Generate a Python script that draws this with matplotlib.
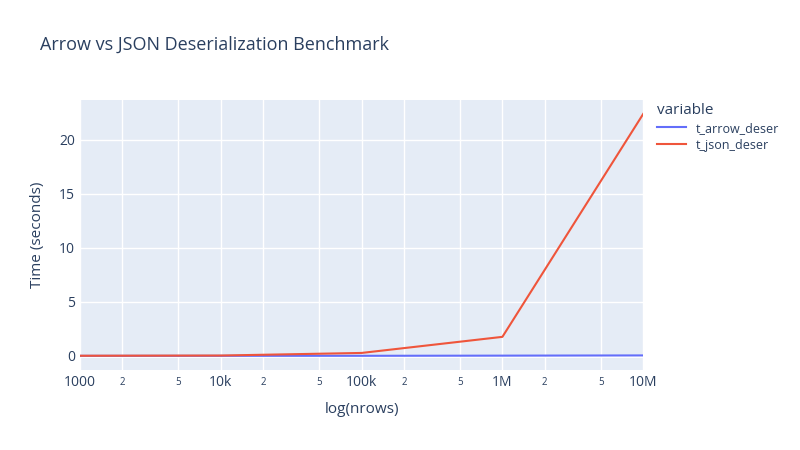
import matplotlib
matplotlib.use("Agg")
from matplotlib import pyplot as plt
from matplotlib.ticker import FixedLocator, NullFormatter

# 数据
nrows = [1000, 10000, 100000, 1000000, 10000000]
t_arrow_deser = [0.002, 0.003, 0.005, 0.02, 0.04]
t_json_deser = [0.01, 0.03, 0.27, 1.76, 22.4]

major_ticks = [1e3, 1e4, 1e5, 1e6, 1e7]
major_labels = ["1000", "10k", "100k", "1M", "10M"]
minor_ticks = [2e3, 5e3, 2e4, 5e4, 2e5, 5e5, 2e6, 5e6]

text_color = "#2a3f5f"
plt.rcParams["font.family"] = ["Open Sans", "DejaVu Sans"]

fig = plt.figure(figsize=(8, 4.5), dpi=100)
ax = fig.add_axes([0.1, 0.178, 0.704, 0.6])
ax.set_facecolor("#E5ECF6")

ax.plot(nrows, t_arrow_deser, color="#636EFA", lw=1.5, label="t_arrow_deser")
ax.plot(nrows, t_json_deser, color="#EF553B", lw=1.5, label="t_json_deser")

ax.set_xscale("log")
ax.set_xlim(1e3, 1e7)
ax.set_ylim(-1.3, 23.7)

ax.xaxis.set_major_locator(FixedLocator(major_ticks))
ax.set_xticklabels(major_labels)
ax.xaxis.set_minor_locator(FixedLocator(minor_ticks))
ax.xaxis.set_minor_formatter(NullFormatter())
# 2 / 5 小刻度标签
for x in minor_ticks:
    ax.text(x, -0.025, str(int(x))[0], transform=ax.get_xaxis_transform(),
            ha="center", va="top", fontsize=7, color=text_color)

ax.set_yticks([0, 5, 10, 15, 20])
ax.tick_params(axis="both", which="both", length=0, colors=text_color, labelsize=10)
ax.tick_params(axis="x", pad=4)
ax.grid(True, which="both", color="white", lw=1)
ax.axhline(0, color="white", lw=2, zorder=0.5)
ax.set_axisbelow(True)
for s in ax.spines.values():
    s.set_visible(False)

ax.set_xlabel("log(nrows)", color=text_color, fontsize=11, labelpad=8)
ax.set_ylabel("Time (seconds)", color=text_color, fontsize=11, labelpad=10)

fig.text(0.05, 0.9, "Arrow vs JSON Deserialization Benchmark", color=text_color,
         fontsize=13, va="center")

leg = ax.legend(loc="upper left", bbox_to_anchor=(1.005, 1.03), frameon=False,
                title="variable", fontsize=9, handlelength=2.3, labelspacing=0.3,
                borderaxespad=0.5)
leg.get_title().set_color(text_color)
leg.get_title().set_fontsize(11)
leg._legend_box.align = "left"
for t in leg.get_texts():
    t.set_color(text_color)

fig.savefig("out.png", dpi=100)
